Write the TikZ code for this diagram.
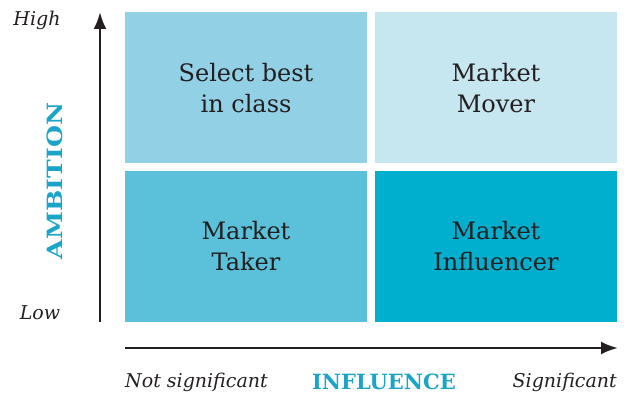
\documentclass[tikz,border=0pt]{standalone}
\usepackage{fontspec}
\setmainfont{DejaVu Serif}
\usetikzlibrary{arrows.meta}
\definecolor{qtl}{HTML}{92D0E5}
\definecolor{qtr}{HTML}{C6E6F0}
\definecolor{qbl}{HTML}{5BC0D9}
\definecolor{qbr}{HTML}{00AECE}
\definecolor{axlab}{HTML}{1AA5C8}
\definecolor{ink}{HTML}{231F20}
\tikzset{
  quad/.style={draw=none, inner sep=0pt, minimum width=242pt, minimum height=151pt, align=center, text=ink, font=\fontsize{24}{31}\selectfont},
  axis/.style={line width=2.6pt, draw=ink, -{Latex[length=17pt,width=13pt]}},
  tick/.style={text=ink, font=\fontsize{19}{22}\selectfont\itshape, inner sep=0pt},
  axname/.style={text=axlab, font=\fontsize{21}{24}\selectfont\bfseries, inner sep=0pt}
}
\begin{document}
\begin{tikzpicture}[x=1pt,y=1pt]
\useasboundingbox (0,0) rectangle (630,394);
\node[quad, fill=qtl] (tl) at (246,306) {Select best\\in class};
\node[quad, fill=qtr] (tr) at (496,306) {Market\\Mover};
\node[quad, fill=qbl] (bl) at (246,147.5) {Market\\Taker};
\node[quad, fill=qbr] (br) at (496,147.5) {Market\\Influencer};
\coordinate (v0) at (100,72);
\coordinate (v1) at (100,382);
\coordinate (h0) at (125,46);
\coordinate (h1) at (618,46);
\draw[axis] (v0) -- (v1);
\draw[axis] (h0) -- (h1);
\node[tick] (high) at (37,374) {High};
\node[tick] (low) at (40,81) {Low};
\node[axname, rotate=90] (amb) at (55,213) {\scalebox{1.2}[1]{AMBITION}};
\node[axname] (inf) at (384,12) {INFLUENCE};
\node[tick, anchor=west] (ns) at (125,12) {Not significant};
\node[tick, anchor=east] (sig) at (617,12) {Significant};
\end{tikzpicture}
\end{document}
